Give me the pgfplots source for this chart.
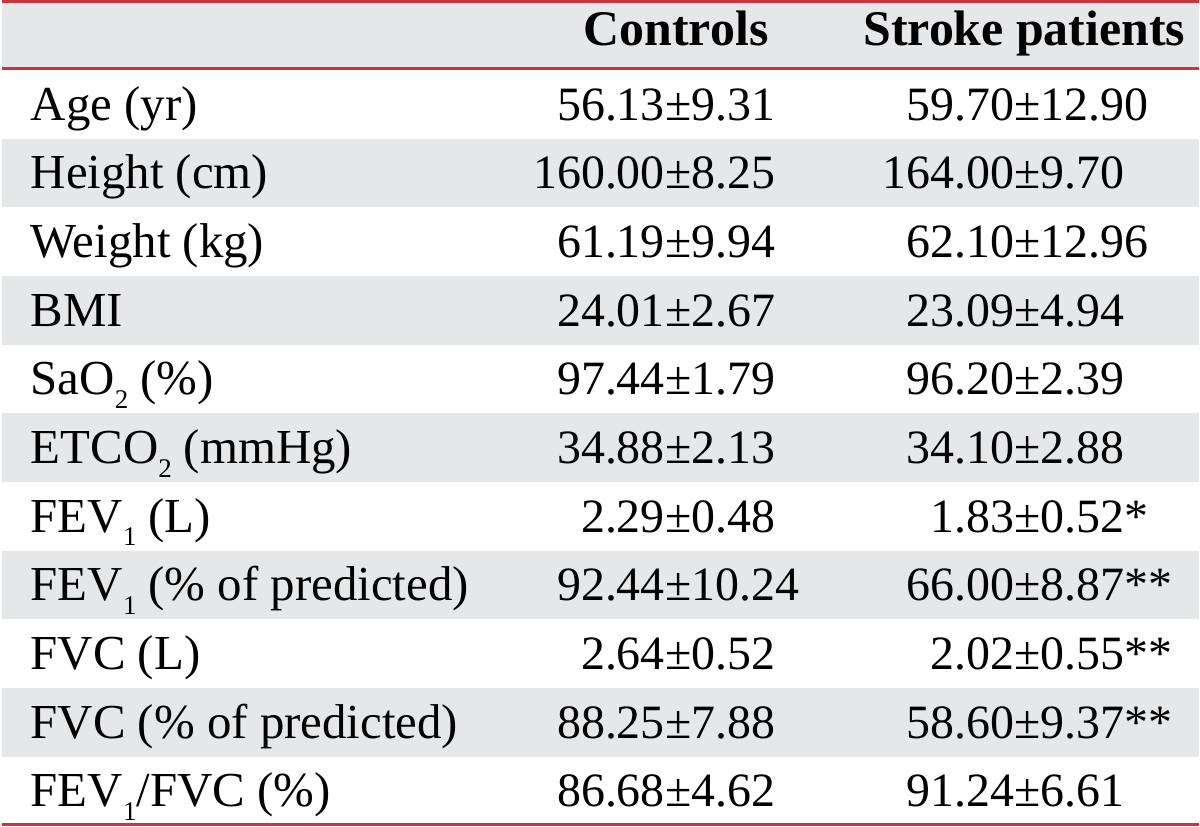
\documentclass[border=0pt]{standalone}
\usepackage{fontspec}
\setmainfont{Liberation Serif}
\usepackage{pgfplots}
\pgfplotsset{compat=1.18}
\usepackage{pgfplotstable}
\definecolor{RuleRed}{HTML}{CC3340}
\definecolor{BandGray}{HTML}{E6E7E9}
\newcommand\numfont{\fontsize{48}{56}\selectfont}
\newcommand\headfont{\bfseries\fontsize{50}{58}\selectfont}
\newcommand\labfont{\fontsize{49}{58}\selectfont}
\newcommand\sub[1]{\raisebox{-0.28em}{\fontsize{27}{27}\selectfont #1}}

% y = baseline of the row (px from top)
\pgfplotstableread[col sep=comma]{
y,label,cl,cr,sl,sr
122,Age (yr),56.13,9.31,59.70,12.90
190.6,Height (cm),160.00,8.25,164.00,9.70
259.2,Weight (kg),61.19,9.94,62.10,12.96
327.8,BMI,24.01,2.67,23.09,4.94
396.4,SaO\sub{2} (\%),97.44,1.79,96.20,2.39
465,ETCO\sub{2} (mmHg),34.88,2.13,34.10,2.88
533.6,FEV\sub{1} (L),2.29,0.48,1.83,0.52*
602.2,FEV\sub{1} (\% of predicted),92.44,10.24,66.00,8.87**
670.8,FVC (L),2.64,0.52,2.02,0.55**
739.4,FVC (\% of predicted),88.25,7.88,58.60,9.37**
808,FEV\sub{1}/FVC (\%),86.68,4.62,91.24,6.61
}\rows

\begin{document}
\begin{tikzpicture}
\begin{axis}[
  width=1200bp, height=831bp, scale only axis,
  xmin=0, xmax=1200, ymin=0, ymax=831, y dir=reverse,
  hide axis, clip=false,
  txt/.style={only marks, mark=none, nodes near coords,
    point meta=explicit symbolic},
]
% shaded rows
\addplot[fill=BandGray, draw=none] coordinates {(4,5) (1200,5) (1200,69) (4,69)} -- cycle;
\addplot[fill=BandGray, draw=none] coordinates {(4,140.6) (1200,140.6) (1200,209.2) (4,209.2)} -- cycle;
\addplot[fill=BandGray, draw=none] coordinates {(4,277.8) (1200,277.8) (1200,346.4) (4,346.4)} -- cycle;
\addplot[fill=BandGray, draw=none] coordinates {(4,415) (1200,415) (1200,483.6) (4,483.6)} -- cycle;
\addplot[fill=BandGray, draw=none] coordinates {(4,552.2) (1200,552.2) (1200,620.8) (4,620.8)} -- cycle;
\addplot[fill=BandGray, draw=none] coordinates {(4,689.4) (1200,689.4) (1200,758) (4,758)} -- cycle;
% rules
\addplot[RuleRed, line width=3bp] coordinates {(4,3.5) (1200,3.5)};
\addplot[RuleRed, line width=3bp] coordinates {(4,70.5) (1200,70.5)};
\addplot[RuleRed, line width=3bp] coordinates {(4,826) (1200,826)};
% header
\addplot[txt, every node near coord/.append style={anchor=base, font=\headfont, inner sep=0pt}]
  coordinates {(678,47) [Controls] (1026,47) [Stroke patients]};
% row labels
\addplot[txt, every node near coord/.append style={anchor=base west, font=\labfont, inner sep=0pt}]
  table[x expr=33, y=y, meta=label] {\rows};
% controls: integer part ends at the plus-minus sign
\addplot[txt, every node near coord/.append style={anchor=base east, font=\numfont, inner sep=0pt}]
  table[x expr=667, y=y, meta=cl] {\rows};
\addplot[txt, nodes near coords={\textpm\pgfplotspointmeta},
  every node near coord/.append style={anchor=base west, font=\numfont, inner sep=0pt}]
  table[x expr=667, y=y, meta=cr] {\rows};
% stroke patients
\addplot[txt, every node near coord/.append style={anchor=base east, font=\numfont, inner sep=0pt}]
  table[x expr=1016, y=y, meta=sl] {\rows};
\addplot[txt, nodes near coords={\textpm\pgfplotspointmeta},
  every node near coord/.append style={anchor=base west, font=\numfont, inner sep=0pt}]
  table[x expr=1016, y=y, meta=sr] {\rows};
\end{axis}
\end{tikzpicture}
\end{document}
